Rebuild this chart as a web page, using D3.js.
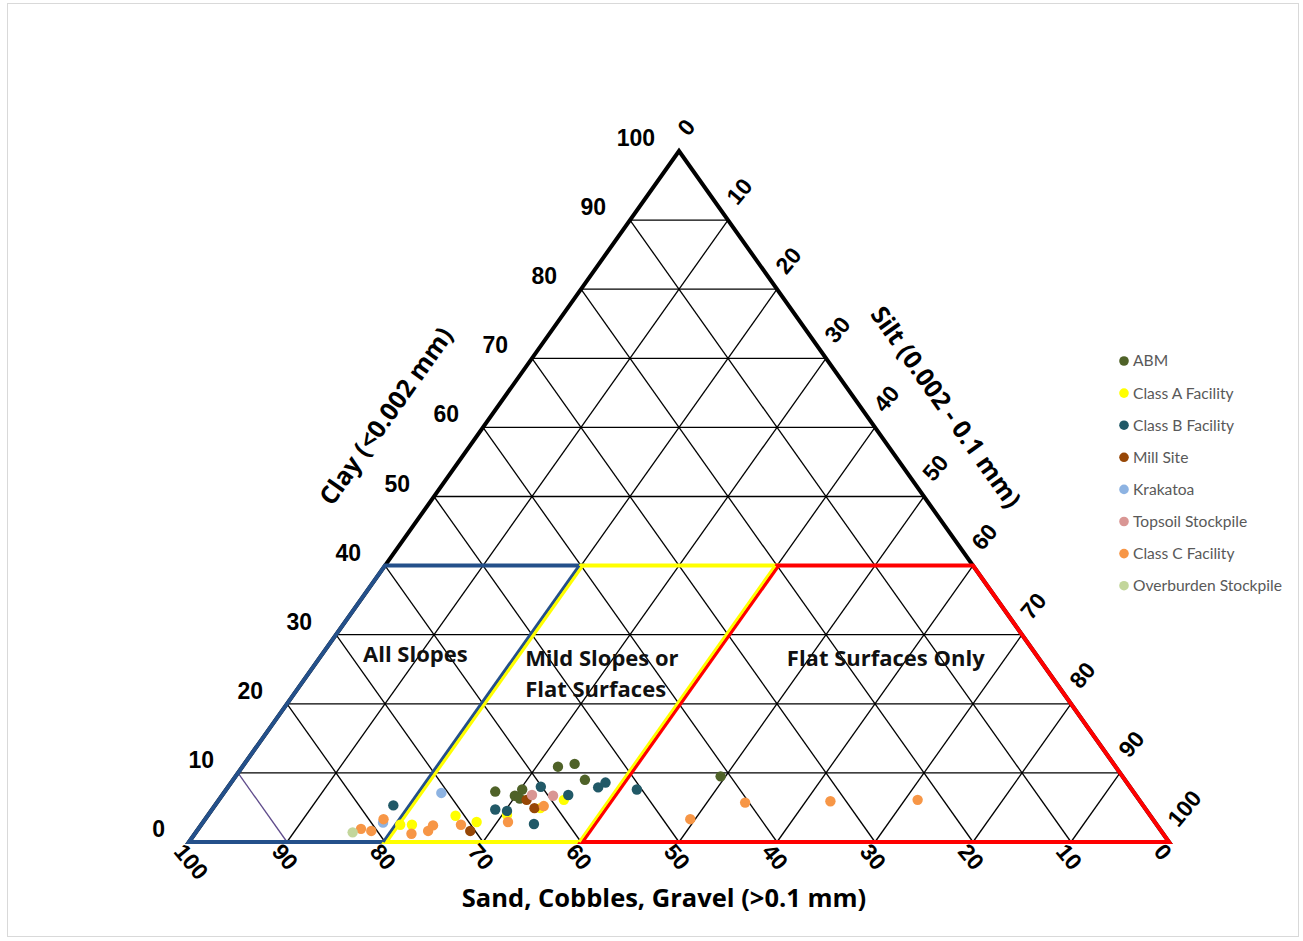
<!DOCTYPE html>
<html>
<head>
<meta charset="utf-8">
<script src="https://cdn.jsdelivr.net/npm/d3@7"></script>
<style>
  body { margin: 0; background: #fff; }
  svg { display: block; }
</style>
</head>
<body>
<svg id="chart" width="1303" height="941"></svg>
<script>
// ---- Data -------------------------------------------------------------
// Grid / tick values (percent)
const gridSteps = [10, 20, 30, 40, 50, 60, 70, 80, 90];
const tickValues = [0, 10, 20, 30, 40, 50, 60, 70, 80, 90, 100];

// Series names and colours (legend order)
const seriesNames = ["ABM", "Class A Facility", "Class B Facility", "Mill Site",
  "Krakatoa", "Topsoil Stockpile", "Class C Facility", "Overburden Stockpile"];
const seriesColors = ["#4f6228", "#ffff00", "#215967", "#974706",
  "#8db3e2", "#d99694", "#f79646", "#c3d69b"];

// Samples as [clay %, silt %]; sand = 100 - clay - silt
const abm = [[10.9, 32.2], [11.3, 33.7], [9.0, 35.9], [7.3, 27.6], [6.7, 29.9],
  [7.6, 30.2], [6.3, 30.6], [9.5, 49.5]];
const classA = [[2.5, 20.3], [2.5, 21.5], [3.8, 25.3], [2.9, 27.9], [3.9, 30.5],
  [4.9, 33.4], [6.1, 35.2]];
const classB = [[5.3, 18.2], [8.0, 31.9], [6.8, 35.3], [7.9, 37.8], [8.6, 38.2],
  [7.6, 41.9], [4.7, 28.9], [4.5, 30.2], [2.6, 33.9]];
const millSite = [[1.6, 27.9], [6.1, 31.4], [4.9, 32.8]];
const krakatoa = [[7.1, 22.2], [2.8, 18.4]];
const topsoil = [[6.8, 31.6], [6.7, 33.8]];
const classC = [[1.9, 16.6], [1.6, 17.8], [3.3, 18.2], [1.2, 22.1], [1.6, 23.6],
  [2.4, 23.7], [2.5, 26.5], [2.9, 31.1], [5.2, 33.6], [3.3, 49.5], [5.7, 53.9],
  [5.9, 62.5], [6.1, 71.3]];
const overburden = [[1.4, 16.0]];
const seriesValues = [abm, classA, classB, millSite, krakatoa, topsoil, classC, overburden];

// Suitability zones as [clay, silt] vertices
const zoneAllSlopes = [[0, 0], [40, 0], [40, 20], [0, 20]];
const zoneMild = [[0, 20], [40, 20], [40, 40], [0, 40]];
const zoneFlat = [[0, 40], [40, 40], [40, 60], [0, 100]];
const zoneColors = ["#24508a", "#ffff00", "#ff0000"];

// ---- Projection ------------------------------------------------------
const svg = d3.select("#chart");
const xs = d3.scaleLinear().domain([0, 100]).range([189, 1169]);
const ys = d3.scaleLinear().domain([0, 100]).range([842, 151]);
const px = (clay, silt) => [xs(silt + clay / 2), ys(clay)];

const boldNum = "'Liberation Sans', Arial, sans-serif";
const titleFont = "'Open Sans', Lato, sans-serif";
const legendFont = "Lato, 'Open Sans', sans-serif";

// Frame
svg.append("rect").attr("x", 7.5).attr("y", 3.5).attr("width", 1291).attr("height", 933)
  .attr("fill", "none").attr("stroke", "#d9d9d9").attr("stroke-width", 1);

const line = d3.line();
const g = svg.append("g");

// ---- Grid --------------------------------------------------------------
gridSteps.forEach(k => {
  // constant clay
  g.append("path").attr("d", line([px(k, 0), px(k, 100 - k)]))
    .attr("stroke", "#000").attr("stroke-width", 1.3).attr("fill", "none");
  // constant sand
  g.append("path").attr("d", line([px(100 - k, 0), px(0, 100 - k)]))
    .attr("stroke", k === 90 ? "#5f4b8b" : "#000").attr("stroke-width", 1.3).attr("fill", "none");
  // constant silt
  g.append("path").attr("d", line([px(0, k), px(100 - k, k)]))
    .attr("stroke", "#000").attr("stroke-width", 1.3).attr("fill", "none");
});

// Outer triangle
g.append("path").attr("d", line([px(0, 0), px(100, 0), px(0, 100)]) + "Z")
  .attr("fill", "none").attr("stroke", "#000").attr("stroke-width", 4)
  .attr("stroke-linejoin", "miter");

// ---- Zones -----------------------------------------------------------
[zoneAllSlopes, zoneMild, zoneFlat].forEach((zone, i) => {
  g.append("path").attr("d", line(zone.map(d => px(d[0], d[1]))) + "Z")
    .attr("fill", "none").attr("stroke", zoneColors[i]).attr("stroke-width", 4)
    .attr("stroke-linejoin", "miter");
});
// Shared borders drawn side by side
const sharedEdge = (silt, color, dx) => {
  g.append("path").attr("d", line([px(0, silt), px(40, silt)]))
    .attr("transform", `translate(${dx},0)`)
    .attr("stroke", color).attr("stroke-width", 3).attr("fill", "none");
};
sharedEdge(20, zoneColors[0], -1.8);
sharedEdge(20, zoneColors[1], 1.8);
sharedEdge(40, zoneColors[1], -1.8);
sharedEdge(40, zoneColors[2], 1.8);

// Zone labels
const zoneText = (clay, silt, lines, anchor) => {
  const [x, y] = px(clay, silt);
  const t = g.append("text").attr("x", x).attr("y", y).attr("text-anchor", anchor)
    .attr("font-family", titleFont).attr("font-weight", "bold").attr("font-size", 22)
    .attr("fill", "#111");
  lines.forEach((s, i) => t.append("tspan").attr("x", x).attr("dy", i ? 31 : 0).text(s));
};
zoneText(26.0, 10.1, ["All Slopes"], "middle");
zoneText(25.4, 21.6, ["Mild Slopes or", "Flat Surfaces"], "start");
zoneText(25.4, 58.4, ["Flat Surfaces Only"], "middle");

// ---- Tick labels ------------------------------------------------------
tickValues.forEach(v => {
  // clay (left side)
  let [x, y] = px(v, 0);
  g.append("text").attr("x", x - 24).attr("y", y - 13).attr("dy", "0.35em")
    .attr("text-anchor", "end").attr("font-family", boldNum).attr("font-weight", "bold")
    .attr("font-size", 23).text(v);
  // silt (right side)
  [x, y] = px(100 - v, v);
  g.append("text").attr("transform", `translate(${x + 3},${y - 19}) rotate(-50)`)
    .attr("dy", "0.35em").attr("font-family", boldNum).attr("font-weight", "bold")
    .attr("font-size", 23).text(v);
  // sand (bottom)
  [x, y] = px(0, 100 - v);
  g.append("text").attr("transform", `translate(${x - 10},${y + 5}) rotate(50)`)
    .attr("dy", "0.35em").attr("font-family", boldNum).attr("font-weight", "bold")
    .attr("font-size", 23).text(v);
});

// ---- Axis titles ------------------------------------------------------
const leftAngle = Math.atan2(ys(100) - ys(0), xs(50) - xs(0)) * 180 / Math.PI;
g.append("text").attr("transform", `translate(386,416) rotate(${leftAngle})`)
  .attr("text-anchor", "middle").attr("dy", "0.35em")
  .attr("font-family", titleFont).attr("font-weight", "bold").attr("font-size", 25)
  .text("Clay (<0.002 mm)");
g.append("text").attr("transform", `translate(946,407) rotate(${-leftAngle})`)
  .attr("text-anchor", "middle").attr("dy", "0.35em")
  .attr("font-family", titleFont).attr("font-weight", "bold").attr("font-size", 25)
  .text("Silt (0.002 - 0.1 mm)");
g.append("text").attr("x", 664).attr("y", 907).attr("text-anchor", "middle")
  .attr("font-family", titleFont).attr("font-weight", "bold").attr("font-size", 25.5)
  .text("Sand, Cobbles, Gravel (>0.1 mm)");

// ---- Points -------------------------------------------------------------
seriesValues.forEach((vals, i) => {
  g.append("g").selectAll("circle").data(vals).join("circle")
    .attr("cx", d => px(d[0], d[1])[0]).attr("cy", d => px(d[0], d[1])[1])
    .attr("r", 5.2).attr("fill", seriesColors[i]);
});

// ---- Legend -------------------------------------------------------------
const legend = svg.append("g");
seriesNames.forEach((name, i) => {
  const y = 361 + i * 32.1;
  legend.append("circle").attr("cx", 1124).attr("cy", y).attr("r", 4.8).attr("fill", seriesColors[i]);
  legend.append("text").attr("x", 1133).attr("y", y).attr("dy", "0.35em")
    .attr("font-family", legendFont).attr("font-size", 15.6).attr("fill", "#595959").text(name);
});
</script>
</body>
</html>
